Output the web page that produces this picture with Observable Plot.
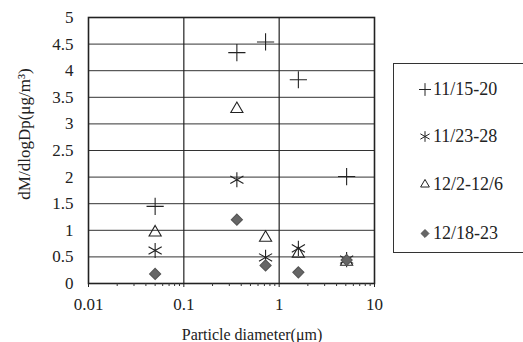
<!DOCTYPE html>
<html>
<head>
<meta charset="utf-8">
<script src="https://cdn.jsdelivr.net/npm/d3@7"></script>
<script src="https://cdn.jsdelivr.net/npm/@observablehq/plot@0.6"></script>
<style>
  html, body { margin: 0; padding: 0; background: #fff; }
  #wrap { position: relative; width: 523px; height: 342px; font-family: "Liberation Serif", serif; color: #222; }
  #wrap svg.plot { position: absolute; left: 0; top: 0; font-family: "Liberation Serif", serif; }
  #wrap svg.plot text { font-family: "Liberation Serif", serif; }
  .ytitle { position: absolute; left: 25px; top: 134px; transform: translate(-50%, -50%) rotate(-90deg); white-space: nowrap; font-size: 17px; font-family: "Liberation Serif", serif; }
  .xtitle { position: absolute; left: 252px; top: 335px; transform: translate(-50%, -50%); white-space: nowrap; font-size: 16px; font-family: "Liberation Serif", serif; }
  .legend { position: absolute; left: 393px; top: 63px; width: 140px; height: 190px; border: 1px solid #333; border-right: none; box-sizing: border-box; }
  .item { position: absolute; left: 25px; display: flex; align-items: center; font-size: 18px; white-space: nowrap; transform: translateY(-50%); font-family: "Liberation Serif", serif; }
  .item svg { margin-right: 2px; }
</style>
</head>
<body>
<div id="wrap"></div>
<script>
// ---- data ----
const xTickValues = [0.01, 0.1, 1, 10];
const xTickLabels = ["0.01", "0.1", "1", "10"];
const yTickValues = [0, 0.5, 1, 1.5, 2, 2.5, 3, 3.5, 4, 4.5, 5];
const yTickLabels = ["0", "0.5", "1", "1.5", "2", "2.5", "3", "3.5", "4", "4.5", "5"];
const diameters = [0.05, 0.36, 0.72, 1.59, 5.1];
const seriesNames = ["11/15-20", "11/23-28", "12/2-12/6", "12/18-23"];
const s1115 = [1.45, 4.34, 4.54, 3.83, 2.01];
const s1123 = [0.62, 1.95, 0.49, 0.66, 0.45];
const s1202 = [0.96, 3.28, 0.86, 0.56, 0.41];
const s1218 = [0.18, 1.20, 0.34, 0.21, 0.44];
const xTitle = "Particle diameter(μm)";
const yTitle = "dM/dlogDp(μg/m³)";

// ---- styles per series ----
const seriesValues = [s1115, s1123, s1202, s1218];
const seriesStyle = [
  {symbol: "plus", r: 5.6, fill: "none", stroke: "#222"},
  {symbol: "asterisk", r: 7.2, fill: "none", stroke: "#222"},
  {symbol: "triangle2", r: 5.8, fill: "none", stroke: "#222"},
  {symbol: "diamond2", r: 5, fill: "#666", stroke: "#555"}
];
const table = seriesNames.map((name, i) => diameters.map((d, j) => ({series: name, x: d, y: seriesValues[i][j]})));

const minorTicks = [];
for (const dec of [0.01, 0.1, 1]) for (let k = 2; k <= 9; k++) minorTicks.push(+(k * dec).toPrecision(3));

const xLabelOf = d => xTickLabels[xTickValues.findIndex(v => Math.abs(v - d) < 1e-9)] ?? "";
const yLabelOf = d => yTickLabels[yTickValues.findIndex(v => Math.abs(v - d) < 1e-9)] ?? "";

const chart = Plot.plot({
  width: 523,
  height: 342,
  marginLeft: 88,
  marginRight: 149,
  marginTop: 17,
  marginBottom: 59,
  style: {fontFamily: "'Liberation Serif', serif", fontSize: "17px", color: "#222", background: "transparent"},
  x: {type: "log", domain: [0.01, 10]},
  y: {domain: [0, 5]},
  marks: [
    Plot.ruleY(yTickValues, {stroke: "#333", strokeWidth: 1}),
    Plot.ruleX([0.1, 1], {stroke: "#222", strokeWidth: 1.2}),
    Plot.frame({stroke: "#222", strokeWidth: 1.6}),
    Plot.axisX({ticks: minorTicks, tickSize: 3, tickFormat: () => "", label: null, stroke: "#333"}),
    Plot.axisX({ticks: xTickValues, tickSize: 4, tickPadding: 10, tickFormat: xLabelOf, label: null, fontSize: 17}),
    Plot.axisY({ticks: yTickValues, tickSize: 0, tickPadding: 15, tickFormat: yLabelOf, label: null, fontSize: 17}),
    ...table.map((rows, i) => Plot.dot(rows, {x: "x", y: "y", ...seriesStyle[i], strokeWidth: 1.1}))
  ]
});
chart.classList.add("plot");
const wrap = document.getElementById("wrap");
wrap.appendChild(chart);

const yt = document.createElement("div"); yt.className = "ytitle"; yt.textContent = yTitle; wrap.appendChild(yt);
const xt = document.createElement("div"); xt.className = "xtitle"; xt.textContent = xTitle; wrap.appendChild(xt);

// legend
const legend = document.createElement("div"); legend.className = "legend"; wrap.appendChild(legend);
const legendTops = [25, 72, 120, 169];
const d3sym = {plus: d3.symbolPlus, asterisk: d3.symbolAsterisk, triangle2: d3.symbolTriangle2, diamond2: d3.symbolDiamond2};
const legendSizes = [55, 80, 55, 40];
seriesNames.forEach((name, i) => {
  const it = document.createElement("div"); it.className = "item"; it.style.top = legendTops[i] + "px";
  const st = seriesStyle[i];
  const path = d3.symbol(d3sym[st.symbol], legendSizes[i])();
  it.innerHTML = `<svg width="12" height="14" viewBox="-6 -7 12 14"><path d="${path}" fill="${st.fill}" stroke="${st.stroke}" stroke-width="1"/></svg><span>${name}</span>`;
  legend.appendChild(it);
});
</script>
</body>
</html>
